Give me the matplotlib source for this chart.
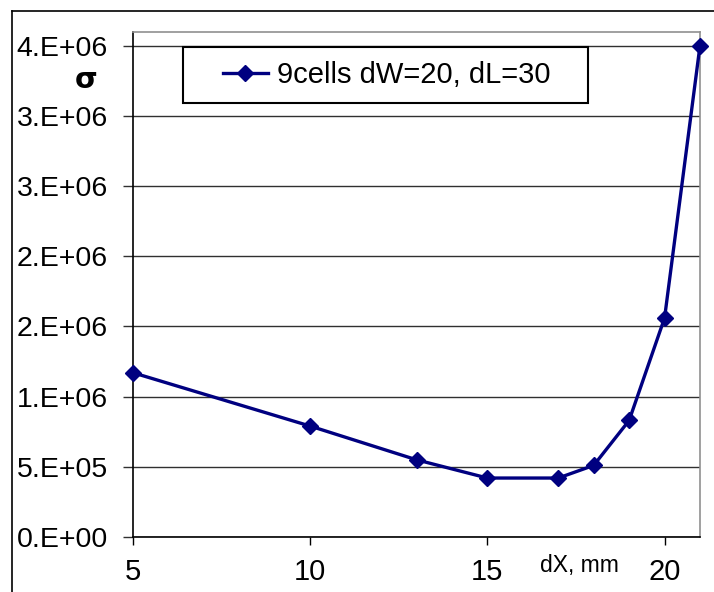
import matplotlib
matplotlib.use("Agg")
import matplotlib.pyplot as plt
from matplotlib.patches import Rectangle
from matplotlib.lines import Line2D

# ---- data ----
dx_mm = [5, 10, 13, 15, 17, 18, 19, 20, 21]
q_vals = [1.17e6, 0.79e6, 0.55e6, 0.42e6, 0.42e6, 0.51e6, 0.83e6, 1.56e6, 3.5e6]
series_name = "9cells dW=20, dL=30"
xtick_vals = [5, 10, 15, 20]
xtick_labels = ["5", "10", "15", "20"]
ytick_vals = [0, 0.5e6, 1.0e6, 1.5e6, 2.0e6, 2.5e6, 3.0e6, 3.5e6]
ytick_labels = ["0.E+00", "5.E+05", "1.E+06", "2.E+06", "2.E+06", "3.E+06", "3.E+06", "4.E+06"]

plt.rcParams['font.family'] = ['Liberation Sans', 'DejaVu Sans']

W, H = 714, 592
fig = plt.figure(figsize=(W / 100, H / 100), dpi=100)
fig.patch.set_facecolor("white")

L, R, T, B = 133, 700, 32, 537
ax = fig.add_axes([L / W, 1 - B / H, (R - L) / W, (B - T) / H])

navy = "#000080"
ax.plot(dx_mm, q_vals, color=navy, lw=2.4, marker="D", ms=8.5,
        markerfacecolor=navy, markeredgecolor=navy, clip_on=False, zorder=5,
        label=series_name)

ax.set_xlim(5, 21)
ax.set_ylim(0, 3.597e6)

ax.set_xticks(xtick_vals)
ax.set_xticklabels(xtick_labels, fontsize=21)
ax.set_yticks(ytick_vals)
ax.set_yticklabels(ytick_labels, fontsize=20.5)

ax.tick_params(axis="x", direction="out", length=6, width=1, color="black", pad=9)
ax.tick_params(axis="y", direction="out", length=7.2, width=1, color="#303030", pad=11)

ax.yaxis.grid(True, color="#303030", lw=1.0)
ax.set_axisbelow(True)

for s in ["top", "right"]:
    ax.spines[s].set_color("#909090")
    ax.spines[s].set_linewidth(1.2)
for s in ["left", "bottom"]:
    ax.spines[s].set_color("black")
    ax.spines[s].set_linewidth(1.2)

# axis titles
ax.set_xlabel("dX, mm", fontsize=16.5)
ax.xaxis.set_label_coords((579 - L) / (R - L), (B - 572) / (B - T))
ax.xaxis.label.set_va("baseline")
ax.set_ylabel("σ", fontsize=21, fontweight="bold", rotation=0, family="DejaVu Sans")
ax.yaxis.set_label_coords((86 - L) / (R - L), (B - 80) / (B - T))
ax.yaxis.label.set_va("center")
ax.yaxis.label.set_ha("center")

# legend box
bx0, bx1, by0, by1 = 183, 588, 47, 103
ax.add_patch(Rectangle(((bx0 - L) / (R - L), (B - by1) / (B - T)),
                       (bx1 - bx0) / (R - L), (by1 - by0) / (B - T),
                       transform=ax.transAxes, facecolor="white", edgecolor="black",
                       lw=1.5, zorder=6, clip_on=False))
leg = ax.legend(loc="center",
                bbox_to_anchor=(((bx0 + bx1) / 2 + 1 - L) / (R - L), (B - (by0 + by1) / 2) / (B - T)),
                frameon=False, fontsize=21, handlelength=1.55, handletextpad=0.3,
                borderpad=0.2, markerscale=1.0)
leg.set_zorder(7)

# outer frame
fig.add_artist(Line2D([12 / W, 12 / W], [0, 1 - 11 / H], color="black", lw=1.2))
fig.add_artist(Line2D([12 / W, 1], [1 - 11 / H, 1 - 11 / H], color="black", lw=1.2))

fig.savefig("out.png", dpi=100, facecolor="white")
